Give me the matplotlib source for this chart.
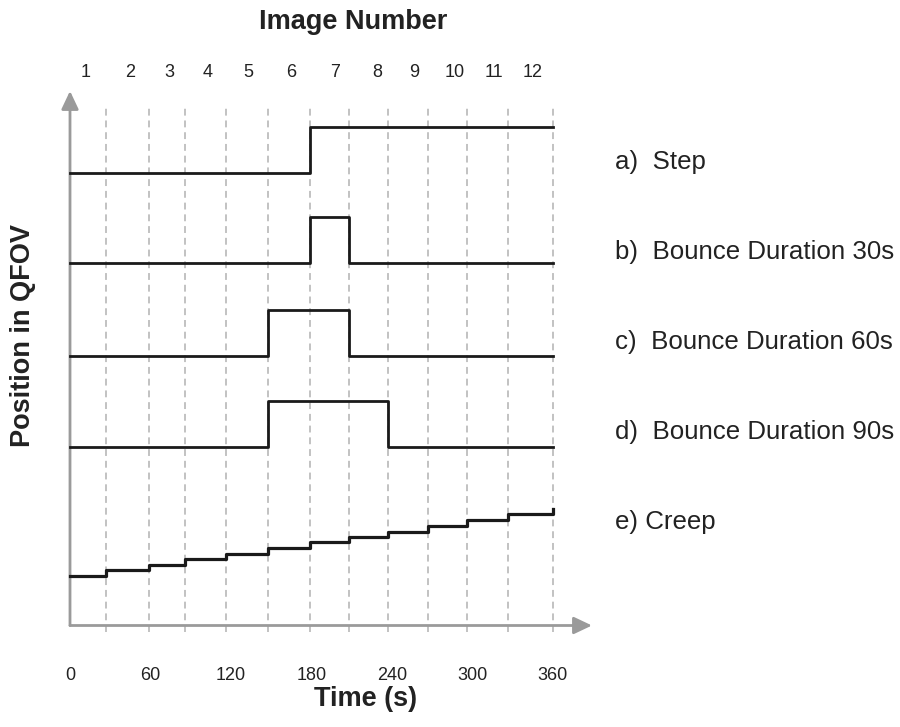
import matplotlib
matplotlib.use('Agg')
import matplotlib.pyplot as plt

plt.rcParams['font.family'] = ['Liberation Sans', 'DejaVu Sans']

# image boundaries (s)
edges = [0, 27, 59, 86, 116, 148, 179, 208, 237, 267, 296, 327, 360]
image_numbers = [1, 2, 3, 4, 5, 6, 7, 8, 9, 10, 11, 12]
image_label_t = [12, 45, 74, 103, 133, 165, 198, 229, 257, 287, 316, 345]
time_ticks = [0, 60, 120, 180, 240, 300, 360]

# position per image (arbitrary units), last value repeated for the closing edge
step_a = [10.06, 10.06, 10.06, 10.06, 10.06, 10.06, 11.08, 11.08, 11.08, 11.08, 11.08, 11.08, 11.08]
bounce_30 = [8.05, 8.05, 8.05, 8.05, 8.05, 8.05, 9.08, 8.05, 8.05, 8.05, 8.05, 8.05, 8.05]
bounce_60 = [6.0, 6.0, 6.0, 6.0, 6.0, 7.01, 7.01, 6.0, 6.0, 6.0, 6.0, 6.0, 6.0]
bounce_90 = [3.97, 3.97, 3.97, 3.97, 3.97, 4.99, 4.99, 4.99, 3.97, 3.97, 3.97, 3.97, 3.97]
creep = [1.09, 1.23, 1.35, 1.48, 1.60, 1.72, 1.85, 1.97, 2.08, 2.22, 2.35, 2.48, 2.59]

series = [step_a, bounce_30, bounce_60, bounce_90, creep]
names = ['a)  Step', 'b)  Bounce Duration 30s', 'c)  Bounce Duration 60s',
         'd)  Bounce Duration 90s', 'e) Creep']
name_y = [10.3, 8.3, 6.3, 4.3, 2.3]

fig = plt.figure(figsize=(9, 7.27), dpi=100)
ax = fig.add_axes([70/900, 1 - 625.5/727, (552.7 - 70)/900, (625.5 - 91)/727])
ax.set_xlim(0, 360)
ax.set_ylim(0, 11.88)
for s in ax.spines.values():
    s.set_visible(False)
ax.set_yticks([])
ax.set_xticks(time_ticks)
ax.tick_params(axis='x', length=0, pad=30, labelsize=13, labelcolor='#222222')

# dashed image boundaries
for t in edges[1:]:
    ax.plot([t, t], [-0.14, 11.54], color='#bdbdbd', lw=1.3, ls=(0, (3.8, 2.7)),
            clip_on=False, zorder=1)

# axes with arrow heads
arrow = dict(arrowstyle='-|>,head_length=0.55,head_width=0.26', color='#9a9a9a', lw=2,
             shrinkA=0, shrinkB=0, mutation_scale=20)
ax.annotate('', xy=(0, 11.88), xytext=(0, 0), arrowprops=arrow, annotation_clip=False)
ax.annotate('', xy=(389.3, 0), xytext=(0, 0), arrowprops=arrow, annotation_clip=False)

for i, vals in enumerate(series):
    lw = 2.3 if i == 4 else 2.0
    ax.step(edges, vals, where='post', color='#1a1a1a', lw=lw, zorder=3, clip_on=False)
    ax.text(406.5, name_y[i], names[i], fontsize=18.6, color='#222222', va='center',
            ha='left', clip_on=False)

for t, n in zip(image_label_t, image_numbers):
    ax.text(t, 12.3, str(n), fontsize=13, color='#222222', ha='center', va='center',
            clip_on=False)

fig.text(353.5/900, 1 - 22/727, 'Image Number', ha='center', va='center',
         fontsize=19.5, weight='bold', color='#222222')
fig.text(366/900, 1 - 699/727, 'Time (s)', ha='center', va='center',
         fontsize=19.5, weight='bold', color='#222222')
fig.text(23/900, 1 - 335.5/727, 'Position in QFOV', ha='center', va='center',
         rotation=90, fontsize=19.5, weight='bold', color='#222222')

fig.savefig('out.png', dpi=100)
